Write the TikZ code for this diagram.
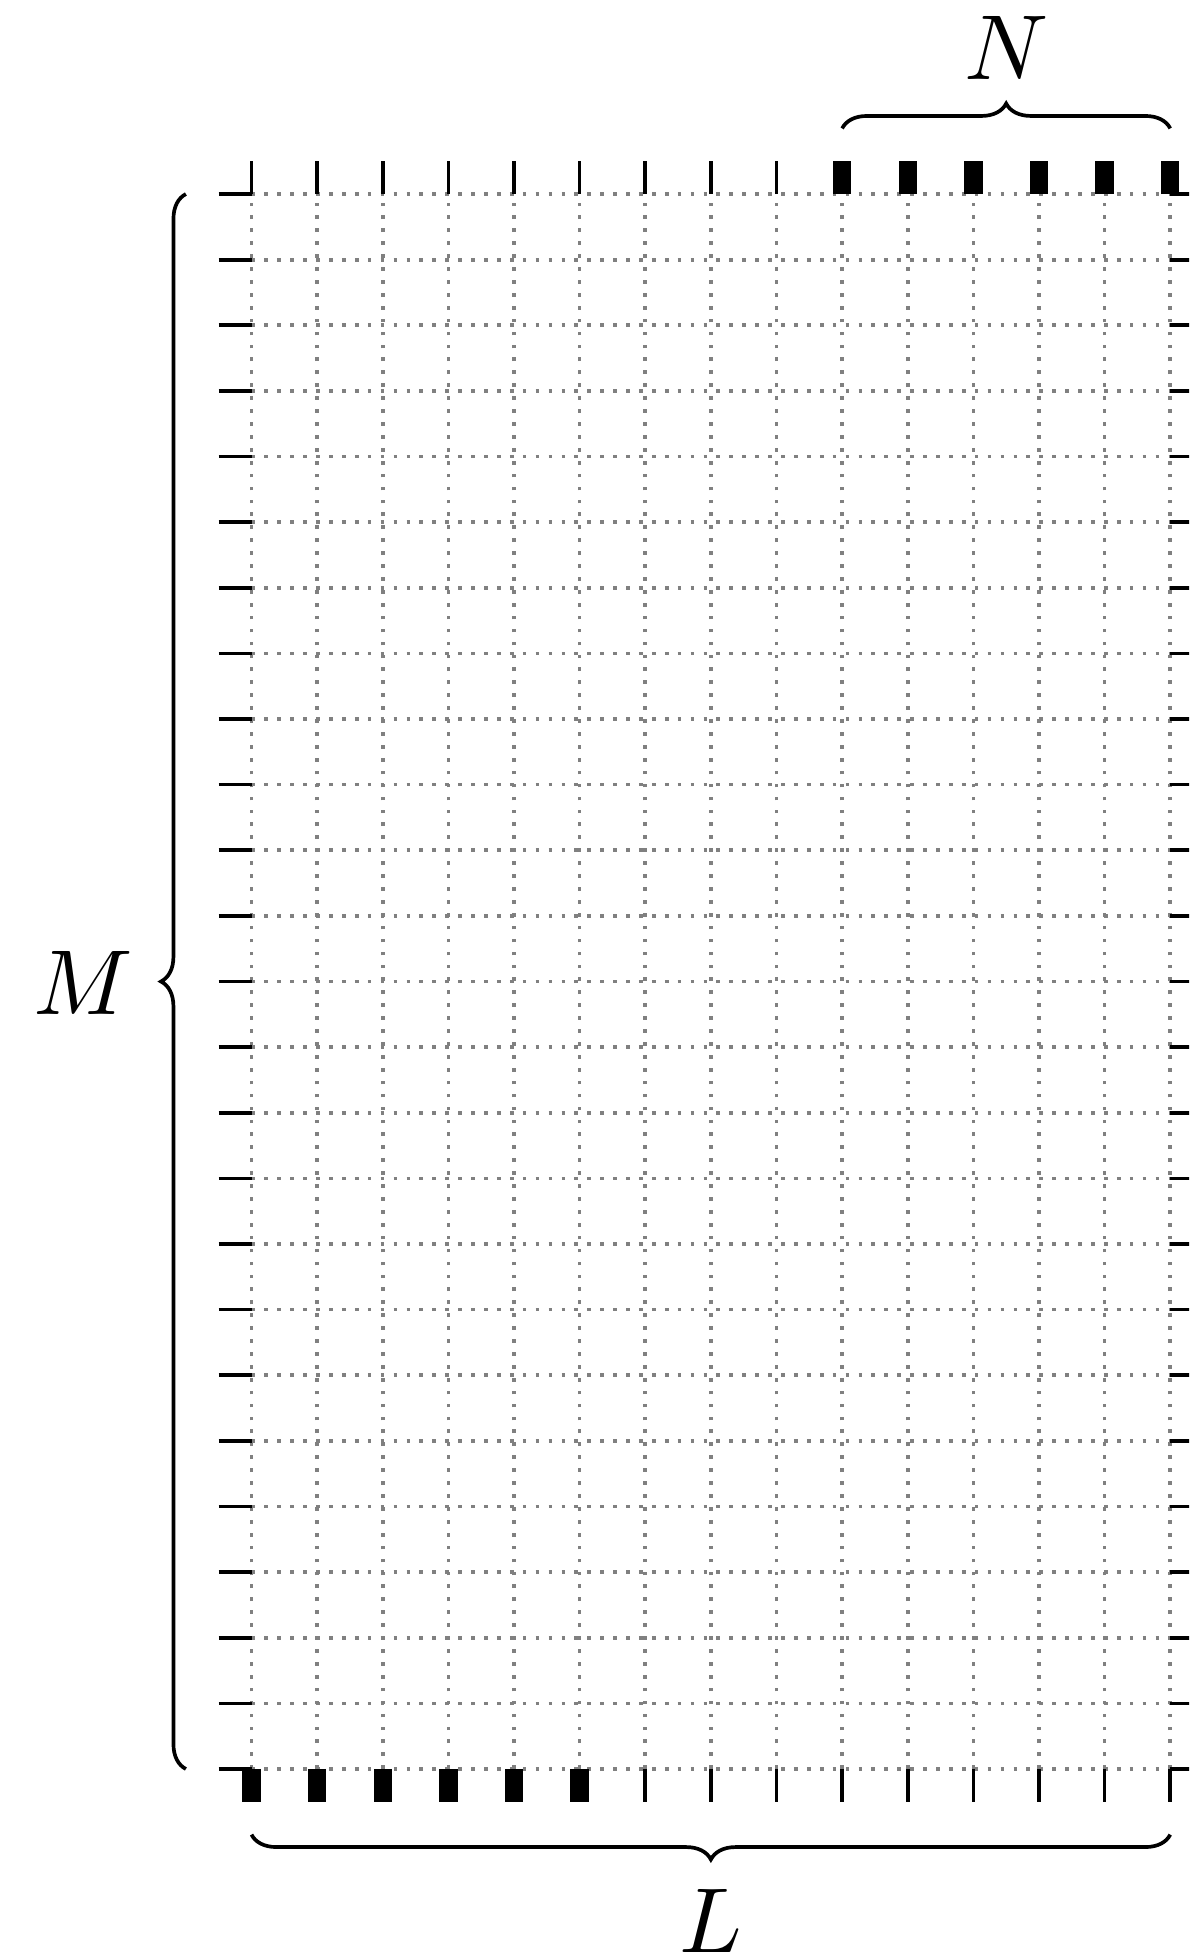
\documentclass[tikz,border=0pt]{standalone}
\usetikzlibrary{decorations.pathreplacing}
\begin{document}
\begin{tikzpicture}[x=0.25cm,y=0.25cm,
  gridline/.style={gray, densely dotted, line width=0.4pt},
  thintick/.style={line width=0.4pt},
  thicktick/.style={line width=2pt},
  bracestyle/.style={decorate, decoration={brace, amplitude=2.7pt}, line width=0.4pt},
  lbl/.style={anchor=base, inner sep=0pt}]
\useasboundingbox (-3.833,-2.865) rectangle (14.287,26.958);
\clip (-3.833,-2.865) rectangle (14.287,26.958);
% dotted grid
\foreach \i in {0,...,14} \draw[gridline] (\i,0) -- (\i,24);
\foreach \j in {0,...,24} \draw[gridline] (0,\j) -- (14,\j);
% left and right ticks
\foreach \j in {0,...,24} {
  \draw[thintick] (-0.5,\j) -- (0,\j);
  \draw[thintick] (14,\j) -- (14.5,\j);
}
% top ticks
\foreach \i in {0,...,8} \draw[thintick] (\i,24) -- (\i,24.5);
\foreach \i in {9,...,14} \draw[thicktick] (\i,24) -- (\i,24.5);
% bottom ticks
\foreach \i in {0,...,5} \draw[thicktick] (\i,0) -- (\i,-0.5);
\foreach \i in {6,...,14} \draw[thintick] (\i,0) -- (\i,-0.5);
% braces
\draw[bracestyle] (9,25) -- (14,25);
\draw[bracestyle] (14,-1) -- (0,-1);
\draw[bracestyle] (-1,0) -- (-1,24);
% labels
\node[lbl] (labN) at (11.5,25.74) {$N$};
\node[lbl] (labL) at (7,-2.79) {$L$};
\node[lbl] (labM) at (-2.56,11.49) {$M$};
\end{tikzpicture}
\end{document}
